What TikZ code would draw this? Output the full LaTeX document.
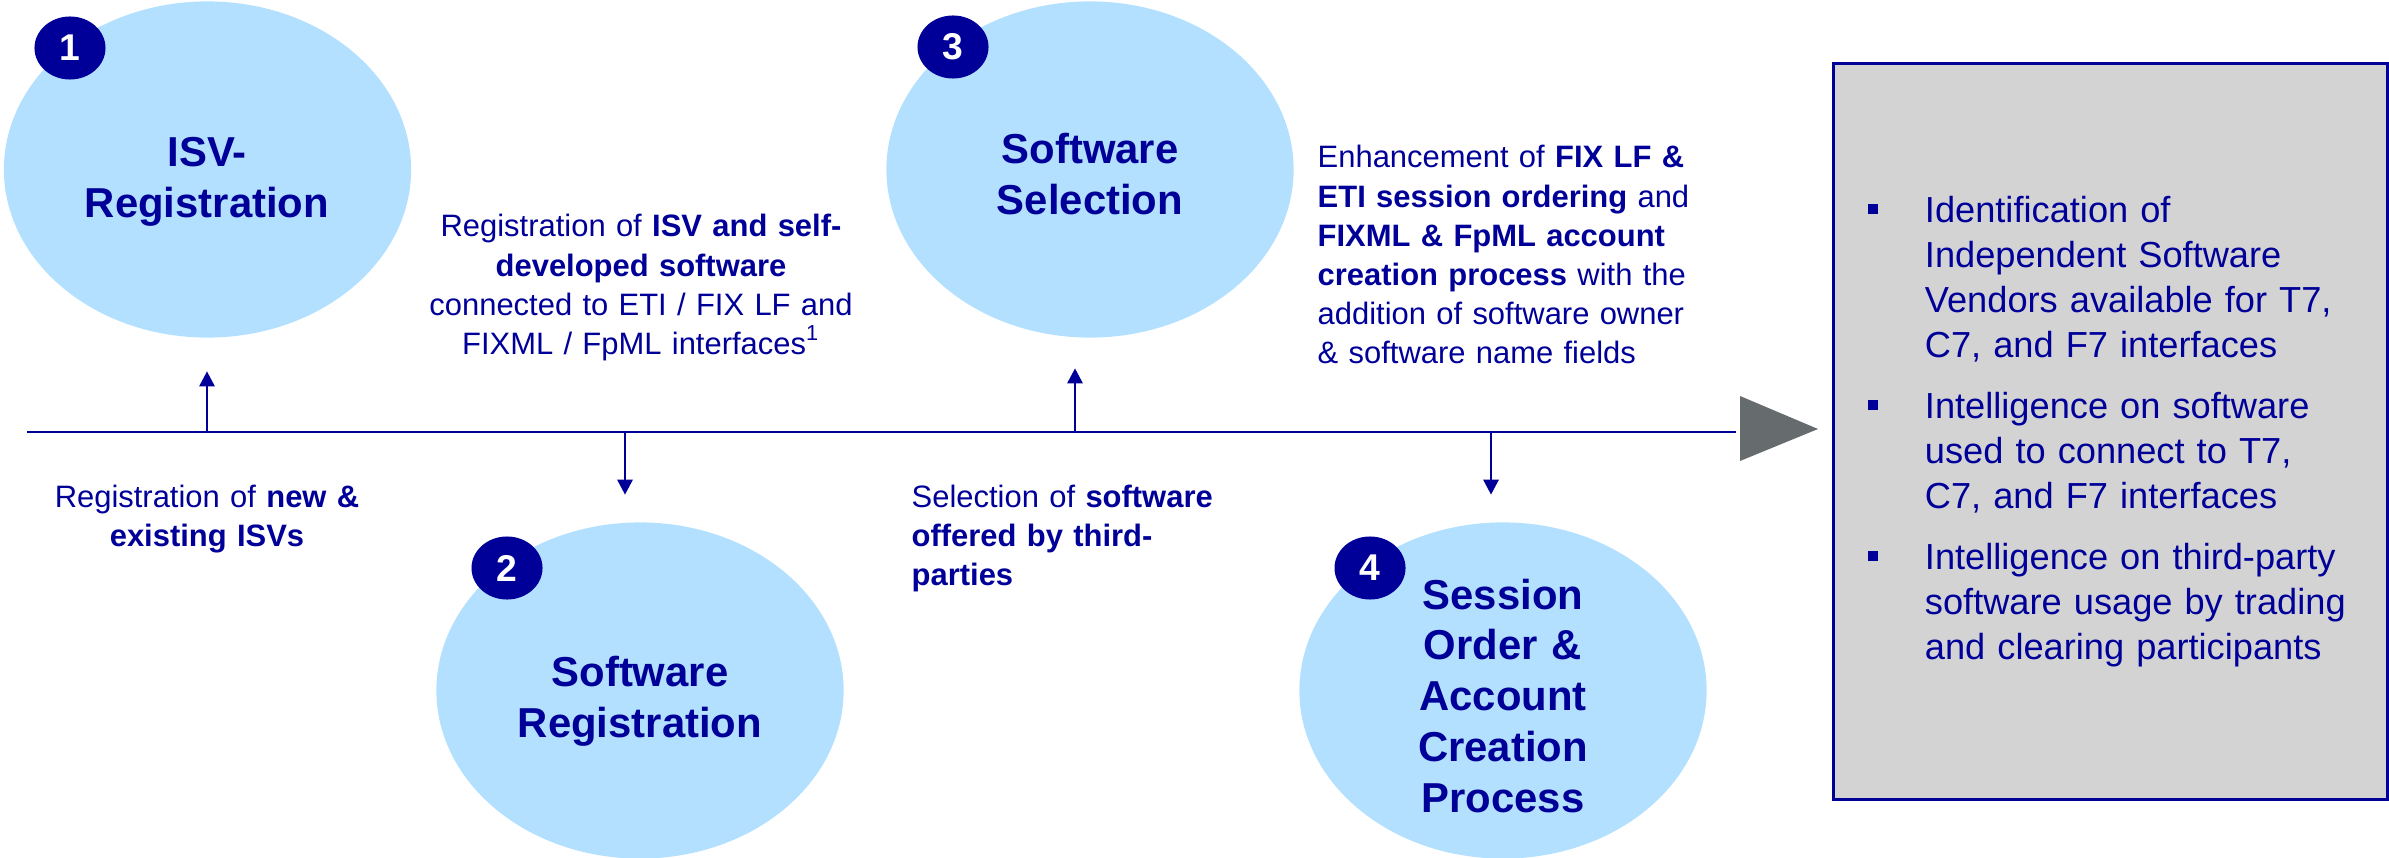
\documentclass[tikz,border=0pt]{standalone}
\usepackage{fontspec}
\setmainfont{Liberation Sans}
\usetikzlibrary{shapes.geometric,arrows.meta}
\definecolor{navy}{RGB}{0,0,153}
\definecolor{skyblue}{RGB}{179,224,255}
\definecolor{panelgray}{RGB}{211,211,211}
\definecolor{tipgray}{RGB}{102,107,110}
\newcommand{\bulsq}{\makebox[0.57cm][l]{\rule[0.08cm]{0.1cm}{0.1cm}}}
\newcommand{\bulgap}{\hspace*{0.57cm}}
\begin{document}
\begin{tikzpicture}[x=0.01cm,y=-0.01cm,
  stage/.style={ellipse,fill=skyblue,minimum width=4.07cm,minimum height=3.36cm,inner sep=0pt},
  badge/.style={ellipse,fill=navy,text=white,minimum width=0.71cm,minimum height=0.63cm,inner sep=0pt,font=\bfseries\fontsize{10.6}{12}\selectfont},
  stagetitle/.style={text=navy,align=center,text width=3cm,inner sep=0pt,anchor=base,font=\bfseries\fontsize{11.9}{14.5}\selectfont},
  desc/.style={text=navy,inner sep=0pt,anchor=base,font=\fontsize{8.8}{11.1}\selectfont},
  flow/.style={navy,line width=0.8pt,-{Triangle[width=0.15cm,length=0.15cm]}}]
\useasboundingbox (0,0) rectangle (2389,858);
% stages
\node[stage] (s1) at (207.5,169.5) {};
\node[stage] (s2) at (640,690.5) {};
\node[stage] (s3) at (1090,169.5) {};
\node[stage] (s4) at (1503,690.5) {};
\node[badge] (b1) at (70,48) {1};
\node[badge] (b2) at (507,568) {2};
\node[badge] (b3) at (953,47) {3};
\node[badge] (b4) at (1370,568) {4};
\node[stagetitle] (t1) at (207,167) {ISV-\\Registration};
\node[stagetitle] (t2) at (640,686) {Software\\Registration};
\node[stagetitle] (t3) at (1090,164) {Software\\Selection};
\node[stagetitle] (t4) at (1503,609) {Session\\Order \&\\Account\\Creation\\Process};
% timeline
\coordinate (start) at (27,432);
\coordinate (end) at (1736,432);
\draw[navy,line width=0.85pt] (start) -- (end);
\fill[tipgray] (1740,396) -- (1818,429) -- (1740,461) -- cycle;
\coordinate (m1) at (207,432);
\coordinate (m2) at (625,432);
\coordinate (m3) at (1075,432);
\coordinate (m4) at (1491,432);
\draw[flow,shorten >=0.33cm] (m1) -- (m1 |- s1.south);
\draw[flow,shorten >=0.27cm] (m2) -- (m2 |- s2.north);
\draw[flow,shorten >=0.30cm] (m3) -- (m3 |- s3.south);
\draw[flow,shorten >=0.27cm] (m4) -- (m4 |- s4.north);
% descriptions
\node[desc,align=center,text width=3.4cm] (d1) at (207,507) {Registration of \textbf{new \&}\\\textbf{existing ISVs}};
\node[desc,align=center,text width=4.6cm] (d2) at (641,237) {Registration of \textbf{ISV and self-}\\\textbf{developed software}\\connected to ETI / FIX LF and\\FIXML / FpML interfaces\textsuperscript{1}};
\node[desc,align=left,text width=3.6cm,anchor=base west] (d3) at (911,507) {Selection of \textbf{software}\\\textbf{offered by third-}\\\textbf{parties}};
\node[desc,align=left,text width=4.2cm,anchor=base west] (d4) at (1317,168) {Enhancement of \textbf{FIX LF \&}\\\textbf{ETI session ordering} and\\\textbf{FIXML \& FpML account}\\\textbf{creation process} with the\\addition of software owner\\\& software name fields};
% outcome
\node[draw=navy,line width=0.85pt,fill=panelgray,minimum width=5.535cm,minimum height=7.36cm,text width=4.855cm,inner xsep=0.34cm,align=left,text=navy,font=\fontsize{10.3}{12.8}\selectfont] (p) at (2110.75,431.5) {%
\bulsq Identification of\\
\bulgap Independent Software\\
\bulgap Vendors available for T7,\\
\bulgap C7, and F7 interfaces\\[0.16cm]
\bulsq Intelligence on software\\
\bulgap used to connect to T7,\\
\bulgap C7, and F7 interfaces\\[0.16cm]
\bulsq Intelligence on third-party\\
\bulgap software usage by trading\\
\bulgap and clearing participants};
\end{tikzpicture}
\end{document}
